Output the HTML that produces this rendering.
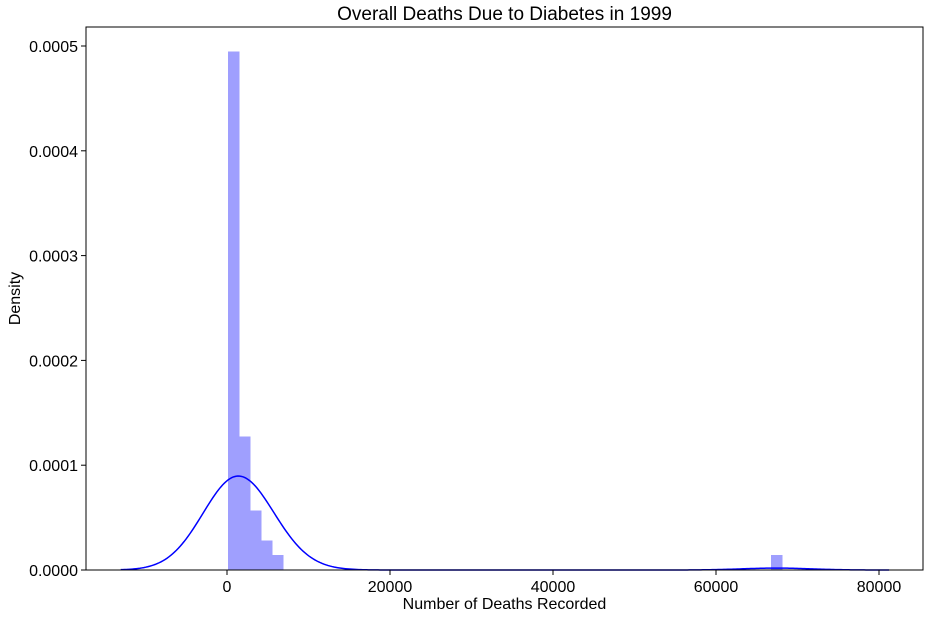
<!DOCTYPE html>
<html><head><meta charset="utf-8"><style>
body{margin:0;background:#fff;font-family:"Liberation Sans",sans-serif}
text{font-family:"Liberation Sans",sans-serif;fill:#000}
</style></head><body>
<svg id="c" width="929" height="619"></svg>
<script>
const binStart=100, binWidth=1360;
const binIndex=[0,1,2,3,4,49];
const binCounts=[35,9,4,2,1,1];
const xTicks=[0,20000,40000,60000,80000];
const yTicks=[0,0.0001,0.0002,0.0003,0.0004,0.0005];
const yTickLabels=["0.0000","0.0001","0.0002","0.0003","0.0004","0.0005"];
const L=86,R=923,T=27,B=570;
const x=v=>227+v*163/20000;
const y=v=>570-v*524/0.0005;
const svg=document.getElementById('c');
const NS='http://www.w3.org/2000/svg';
function mk(t,a,p){const e=document.createElementNS(NS,t);for(const k in a)e.setAttribute(k,a[k]);(p||svg).appendChild(e);return e;}
const N=binCounts.reduce((a,b)=>a+b,0);
const bars=mk('g',{'shape-rendering':'crispEdges'});


binIndex.forEach((bi,i)=>{
 const x0=binStart+bi*binWidth, d=binCounts[i]/(N*binWidth);
 const r=mk('rect',{x:x(x0),y:y(d),width:x(x0+binWidth)-x(x0)+0.5,height:y(0)-y(d),fill:'#9f9ffe'},bars);
 
 
});
const pts=[];binIndex.forEach((bi,i)=>{for(let k=0;k<binCounts[i];k++)pts.push(binStart+(bi+0.5)*binWidth);});
const mean=pts.reduce((a,b)=>a+b,0)/pts.length;
const sd=Math.sqrt(pts.reduce((a,b)=>a+(b-mean)**2,0)/(pts.length-1));
const h=sd*Math.pow(pts.length,-0.2);
const lo=Math.min(...pts)-3.3*h, hi=Math.max(...pts)+3.3*h;
let dstr='';
for(let i=0;i<=400;i++){const v=lo+(hi-lo)*i/400;let s=0;pts.forEach(p=>{s+=Math.exp(-0.5*((v-p)/h)**2);});s/=pts.length*h*Math.sqrt(2*Math.PI);dstr+=(i?'L':'M')+x(v).toFixed(2)+','+y(s).toFixed(2);}
const kde=mk('path',{d:dstr,fill:'none',stroke:'#0000ff','stroke-width':1.5});


const frame=mk('rect',{x:L,y:T,width:R-L,height:B-T,fill:'none',stroke:'#000','stroke-width':1});


xTicks.forEach(v=>{
 mk('line',{x1:x(v),x2:x(v),y1:B,y2:B+5,stroke:'#000'});
 const t=mk('text',{x:x(v),y:B+22,'text-anchor':'middle','font-size':16});t.textContent=v;
 
 
});
yTicks.forEach((v,i)=>{
 mk('line',{x1:L-5,x2:L,y1:y(v),y2:y(v),stroke:'#000'});
 const t=mk('text',{x:L-8,y:y(v)+6,'text-anchor':'end','font-size':16});t.textContent=yTickLabels[i];
 
 
});
const tt=mk('text',{x:(L+R)/2,y:20,'text-anchor':'middle','font-size':19});tt.textContent='Overall Deaths Due to Diabetes in 1999';


const xt=mk('text',{x:(L+R)/2,y:609,'text-anchor':'middle','font-size':16});xt.textContent='Number of Deaths Recorded';


const yt=mk('text',{x:20,y:(T+B)/2,'text-anchor':'middle','font-size':16,transform:`rotate(-90 20 ${(T+B)/2})`});yt.textContent='Density';


</script>
</body></html>
